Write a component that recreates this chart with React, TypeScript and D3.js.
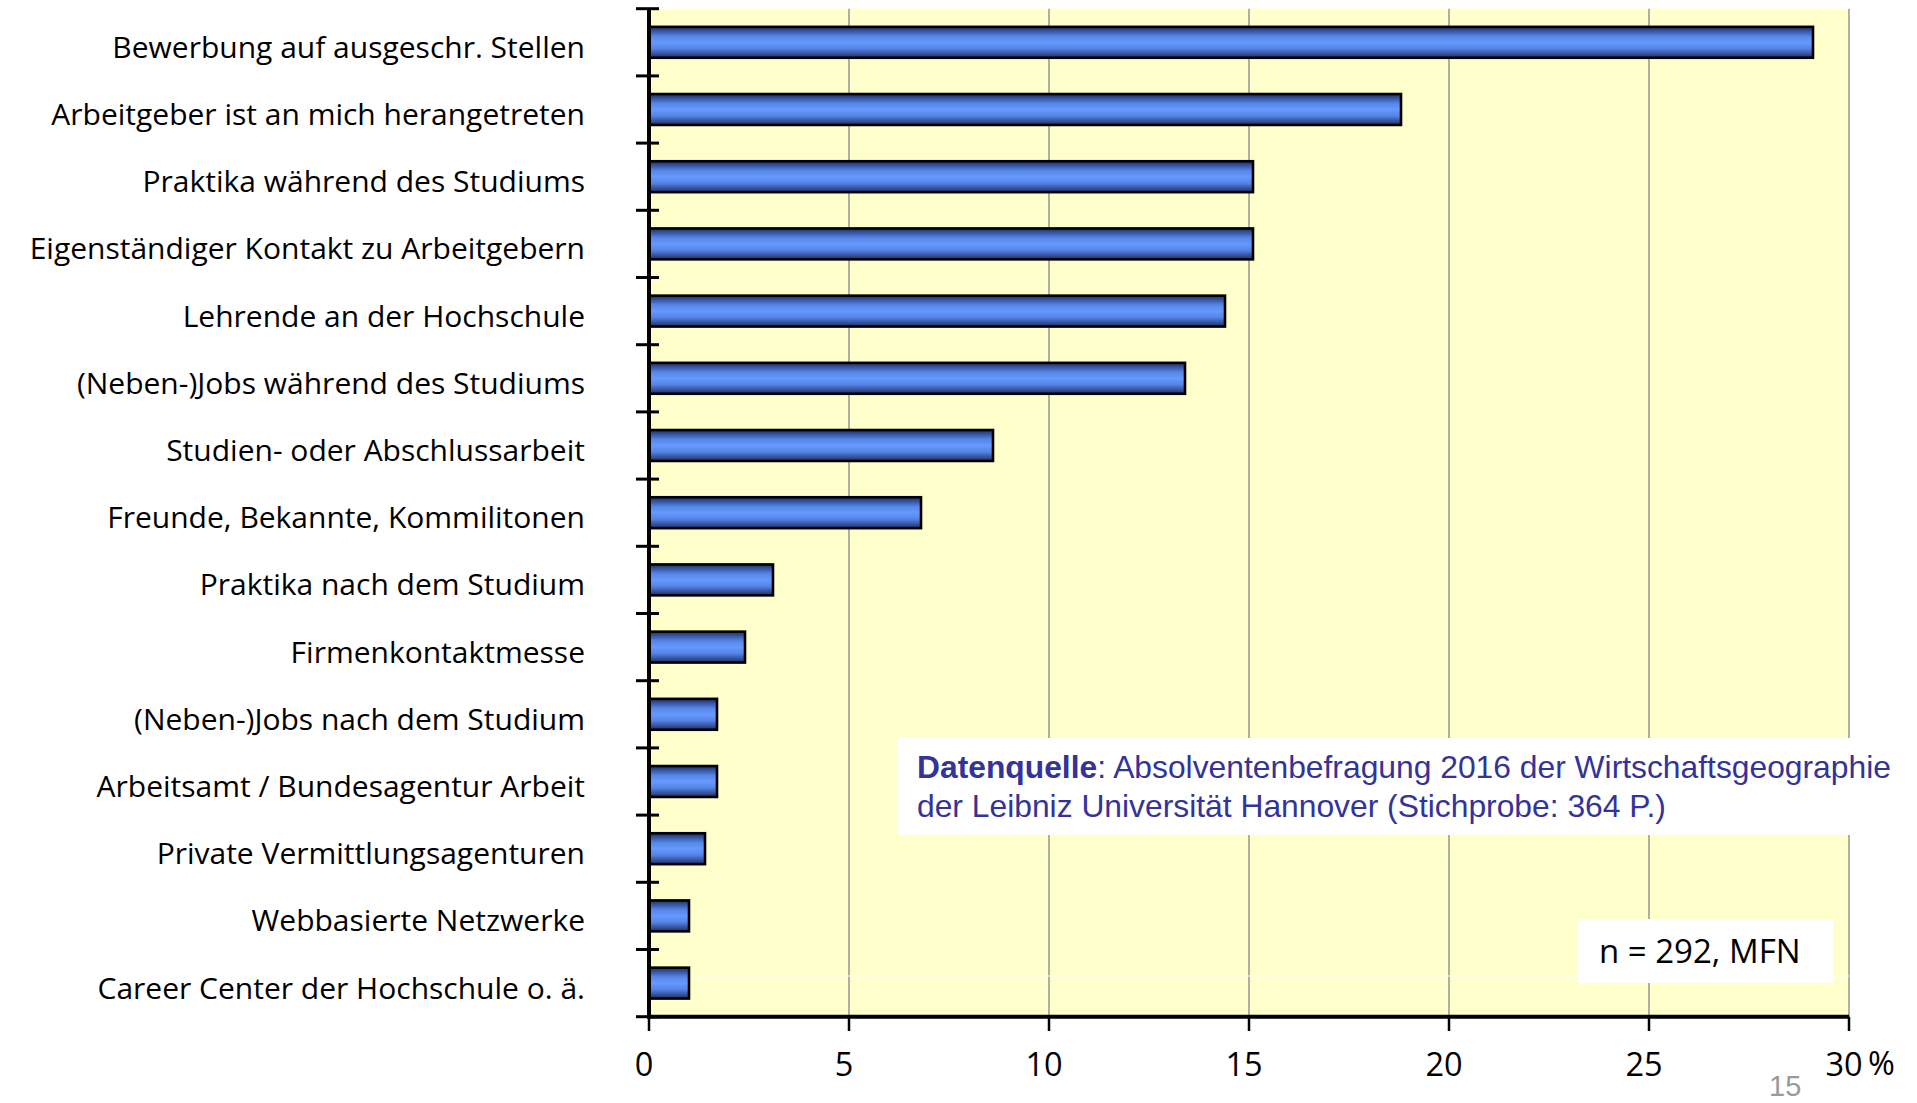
import React from "react";
import * as d3 from "d3";

const categories = [
  "Bewerbung auf ausgeschr. Stellen",
  "Arbeitgeber ist an mich herangetreten",
  "Praktika während des Studiums",
  "Eigenständiger Kontakt zu Arbeitgebern",
  "Lehrende an der Hochschule",
  "(Neben-)Jobs während des Studiums",
  "Studien- oder Abschlussarbeit",
  "Freunde, Bekannte, Kommilitonen",
  "Praktika nach dem Studium",
  "Firmenkontaktmesse",
  "(Neben-)Jobs nach dem Studium",
  "Arbeitsamt / Bundesagentur Arbeit",
  "Private Vermittlungsagenturen",
  "Webbasierte Netzwerke",
  "Career Center der Hochschule o. ä.",
];
const values = [29.1, 18.8, 15.1, 15.1, 14.4, 13.4, 8.6, 6.8, 3.1, 2.4, 1.7, 1.7, 1.4, 1.0, 1.0];
const xTicks = [0, 5, 10, 15, 20, 25, 30];
const sourceBold = "Datenquelle";
const sourceLine1 = ": Absolventenbefragung 2016 der Wirtschaftsgeographie";
const sourceLine2 = "der Leibniz Universität Hannover (Stichprobe: 364 P.)";
const sampleNote = "n = 292, MFN";
const pageNumber = "15";

export default function App() {
  const W = 1917, H = 1103;
  const left = 649, right = 1849, top = 8.7, bottom = 1016.7;
  const x = d3.scaleLinear().domain([0, 30]).range([left, right]);
  const y = d3.scaleBand<string>().domain(categories).range([top, bottom]).padding(0);
  const bw = y.bandwidth();
  const barH = bw * 0.46;
  const labelFont = "'Open Sans', 'Noto Sans', sans-serif";
  const arial = "'Liberation Sans', Arial, sans-serif";
  const boundaries = d3.range(categories.length + 1).map((i) => top + i * bw);

  return (
    <svg width={W} height={H} style={{ position: "absolute", left: 0, top: 0, display: "block", background: "#fff" }}>
      <defs>
        <linearGradient id="barGrad" x1="0" y1="0" x2="0" y2="1">
          <stop offset="0%" stopColor="#1e2d66" />
          <stop offset="30%" stopColor="#5585e6" />
          <stop offset="50%" stopColor="#6699ff" />
          <stop offset="70%" stopColor="#5585e6" />
          <stop offset="100%" stopColor="#1e2d66" />
        </linearGradient>
      </defs>
      <rect x={left} y={top} width={right - left} height={bottom - top} fill="#ffffcc" />
      {xTicks.filter((t) => t > 0).map((t) => (
        <line key={"g" + t} x1={x(t)} x2={x(t)} y1={top} y2={bottom} stroke="#868686" strokeWidth={1.3} />
      ))}
      <line x1={left} x2={right} y1={976} y2={976} stroke="#ffffff" strokeWidth={1} />
      {categories.map((c, i) => (
        <rect
          key={"b" + i}
          x={x(0)}
          y={(y(c) as number) + (bw - barH) / 2}
          width={x(values[i]) - x(0)}
          height={barH}
          fill="url(#barGrad)"
          stroke="#000"
          strokeWidth={2.6}
        />
      ))}
      {/* left axis */}
      <line x1={left} x2={left} y1={top} y2={bottom + 2} stroke="#000" strokeWidth={4} />
      {boundaries.map((b, i) => (
        <line key={"t" + i} x1={636} x2={659} y1={b} y2={b} stroke="#000" strokeWidth={3} />
      ))}
      {/* bottom axis */}
      <line x1={left - 2} x2={right} y1={bottom} y2={bottom} stroke="#000" strokeWidth={4} />
      {xTicks.map((t) => (
        <line key={"xt" + t} x1={x(t)} x2={x(t)} y1={bottom} y2={1031} stroke="#000" strokeWidth={2.5} />
      ))}
      {xTicks.map((t) => (
        <text key={"xl" + t} x={x(t) - 5} y={1076} textAnchor="middle" fontFamily={labelFont} fontSize={32.5} fill="#000">
          {t}
        </text>
      ))}
      <text x={1868} y={1075} fontFamily={labelFont} fontSize={32.5} fill="#000">%</text>
      {categories.map((c, i) => (
        <text
          key={"l" + i}
          x={585}
          y={(y(c) as number) + bw / 2 + 15.5}
          textAnchor="end"
          fontFamily={labelFont}
          fontSize={30}
          fill="#000"
        >
          {c}
        </text>
      ))}
      {/* source box */}
      <rect x={898} y={738} width={W - 898} height={97} fill="#ffffff" />
      <text x={917} y={778} fontFamily={arial} fontSize={31.8} fill="#333399">
        <tspan fontWeight="bold">{sourceBold}</tspan>
        <tspan>{sourceLine1}</tspan>
      </text>
      <text x={917} y={817} fontFamily={arial} fontSize={31.8} fill="#333399">
        {sourceLine2}
      </text>
      {/* n box */}
      <rect x={1578} y={919} width={255} height={64} fill="#ffffff" />
      <text x={1599} y={963} fontFamily={labelFont} fontSize={33} fill="#000">{sampleNote}</text>
      <text x={1769} y={1096} fontFamily={arial} fontSize={29} fill="#9a9a9a">
        {pageNumber}
      </text>
    </svg>
  );
}
